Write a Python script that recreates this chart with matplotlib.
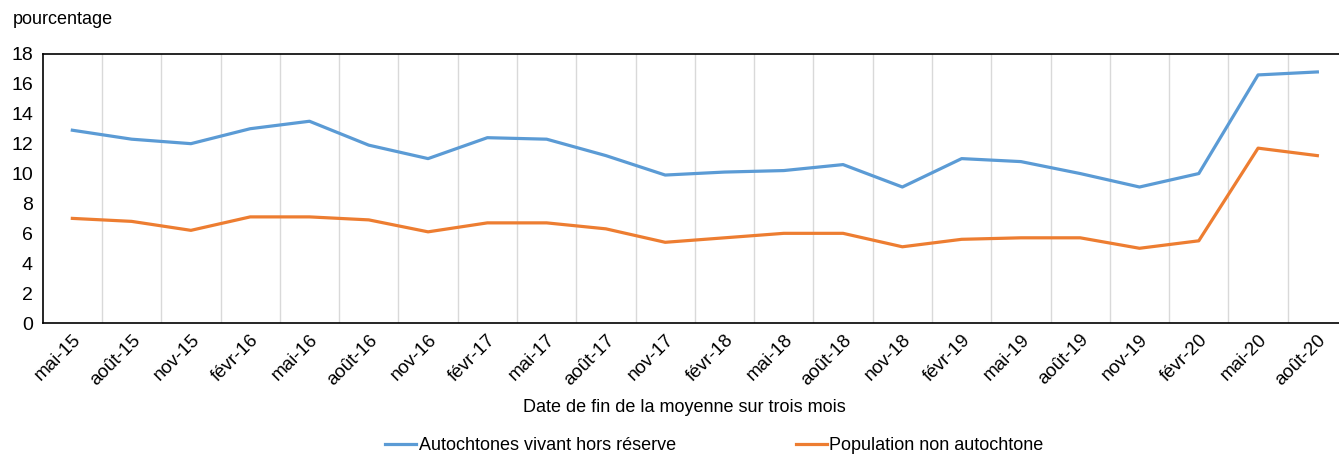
import numpy as np
from matplotlib import pyplot as plt

plt.rcParams['font.family'] = ['Liberation Sans', 'DejaVu Sans']

dates = ["mai-15", "août-15", "nov-15", "févr-16", "mai-16", "août-16", "nov-16",
         "févr-17", "mai-17", "août-17", "nov-17", "févr-18", "mai-18", "août-18",
         "nov-18", "févr-19", "mai-19", "août-19", "nov-19", "févr-20", "mai-20", "août-20"]
autochtones = [12.9, 12.3, 12.0, 13.0, 13.5, 11.9, 11.0,
               12.4, 12.3, 11.2, 9.9, 10.1, 10.2, 10.6,
               9.1, 11.0, 10.8, 10.0, 9.1, 10.0, 16.6, 16.8]
non_autochtones = [7.0, 6.8, 6.2, 7.1, 7.1, 6.9, 6.1,
                   6.7, 6.7, 6.3, 5.4, 5.7, 6.0, 6.0,
                   5.1, 5.6, 5.7, 5.7, 5.0, 5.5, 11.7, 11.2]

fig = plt.figure(figsize=(13.39, 4.57), dpi=100)
# the plot area runs a little past the right edge of the image, as in the original
ax = fig.add_axes([42.7 / 1339, 1 - 323 / 457, (1347 - 42.7) / 1339, 269 / 457])

x = np.arange(len(dates))
ax.plot(x, autochtones, color='#5B9BD5', lw=2.3, label='Autochtones vivant hors réserve')
ax.plot(x, non_autochtones, color='#ED7D31', lw=2.3, label='Population non autochtone')

ax.set_xlim(-0.5, len(dates) - 0.5)
ax.set_ylim(0, 18)
ax.set_yticks(np.arange(0, 19, 2))
ax.set_xticks(x)
ax.set_xticklabels(dates, rotation=45, ha='right', va='top', rotation_mode='anchor', fontsize=13.5)
ax.set_xticks(np.arange(0.5, len(dates) - 1, 1), minor=True)
ax.grid(True, which='minor', axis='x', color='#D9D9D9', lw=1)
ax.tick_params(axis='both', which='both', length=0)
ax.tick_params(axis='y', labelsize=14, pad=7)
ax.tick_params(axis='x', pad=6)
for s in ax.spines.values():
    s.set_color('black')
    s.set_linewidth(1.2)

fig.text(684 / 1339, 1 - 408 / 457, "Date de fin de la moyenne sur trois mois",
         fontsize=13, ha='center', va='center')
fig.text(13 / 1339, 1 - 20 / 457, "pourcentage", fontsize=13, va='center', ha='left')

fig.legend(loc='center', bbox_to_anchor=(0.5335, 1 - 446 / 457), ncol=2, frameon=False,
           fontsize=13, handlelength=1.7, handletextpad=0.15, columnspacing=6.65)

fig.savefig('out.png', dpi=100)
